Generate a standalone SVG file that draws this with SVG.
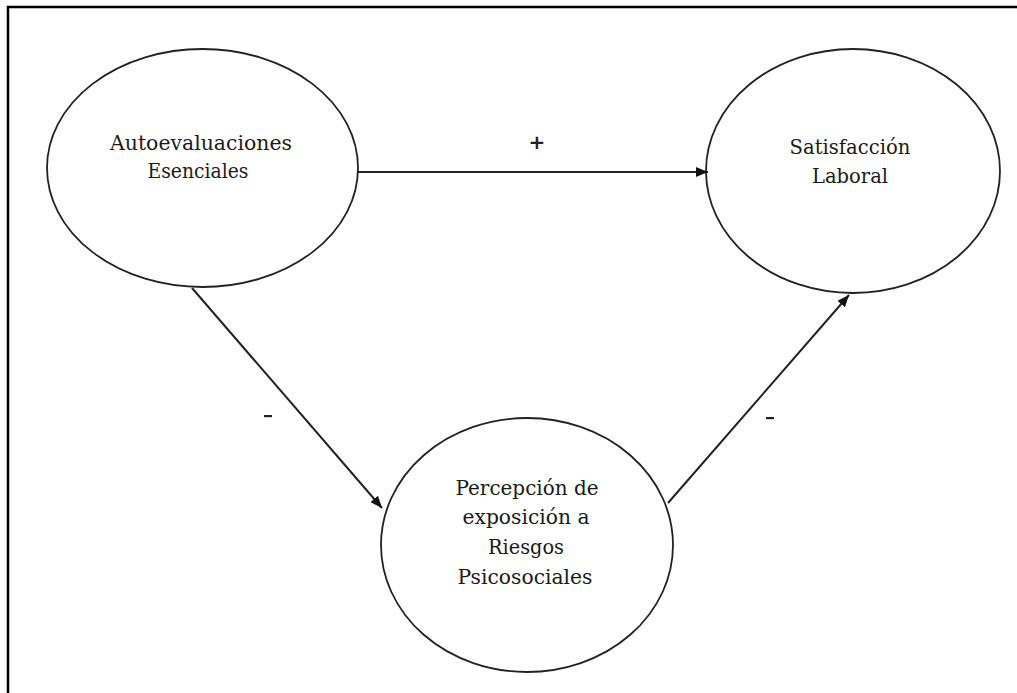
<svg xmlns="http://www.w3.org/2000/svg" width="1017" height="693" viewBox="0 0 1017 693">
  <style>
    .frame { fill: none; stroke: #000; stroke-width: 2.5; }
    .node { fill: #fff; stroke: #222; stroke-width: 1.8; }
    .label { font-family: "DejaVu Serif", "Liberation Serif", serif; font-size: 20px; fill: #1a1a1a; text-anchor: middle; }
    .sign { font-family: "DejaVu Sans", "Liberation Sans", sans-serif; font-size: 20px; font-weight: bold; fill: #222; text-anchor: middle; }
    .edge { stroke: #222; stroke-width: 2; fill: none; marker-end: url(#arrow); }
  </style>
  <defs>
    <marker id="arrow" viewBox="0 0 12 10" refX="12" refY="5" markerWidth="12" markerHeight="10" markerUnits="userSpaceOnUse" orient="auto">
      <path d="M0,0 L12,5 L0,10 Z" fill="#111"/>
    </marker>
  </defs>

  <rect x="8" y="7" width="1100" height="800" fill="#fff" class="frame"/>

  <g id="node-autoevaluaciones">
    <ellipse class="node" cx="202.5" cy="168" rx="155.5" ry="119"/>
    <text class="label" x="201" y="150" textLength="182" lengthAdjust="spacingAndGlyphs">Autoevaluaciones</text>
    <text class="label" x="198" y="178" textLength="101" lengthAdjust="spacingAndGlyphs">Esenciales</text>
  </g>

  <g id="node-satisfaccion">
    <ellipse class="node" cx="853" cy="171" rx="147" ry="122"/>
    <text class="label" x="850" y="154" textLength="121" lengthAdjust="spacingAndGlyphs">Satisfacción</text>
    <text class="label" x="850" y="183" textLength="76" lengthAdjust="spacingAndGlyphs">Laboral</text>
  </g>

  <g id="node-percepcion">
    <ellipse class="node" cx="527" cy="545" rx="146" ry="127"/>
    <text class="label" x="527" y="495" textLength="143" lengthAdjust="spacingAndGlyphs">Percepción de</text>
    <text class="label" x="526" y="524" textLength="127" lengthAdjust="spacingAndGlyphs">exposición a</text>
    <text class="label" x="526" y="554" textLength="76" lengthAdjust="spacingAndGlyphs">Riesgos</text>
    <text class="label" x="525" y="584" textLength="135" lengthAdjust="spacingAndGlyphs">Psicosociales</text>
  </g>

  <g id="connectors">
    <line class="edge" x1="358" y1="172" x2="708" y2="172"/>
    <line class="edge" x1="192" y1="288" x2="382" y2="508"/>
    <line class="edge" x1="668" y1="503" x2="849" y2="295"/>
    <text class="sign" x="537" y="149">+</text>
    <rect x="264" y="415" width="8" height="2.2" fill="#222"/>
    <rect x="766" y="417" width="8" height="2.2" fill="#222"/>
  </g>
</svg>
